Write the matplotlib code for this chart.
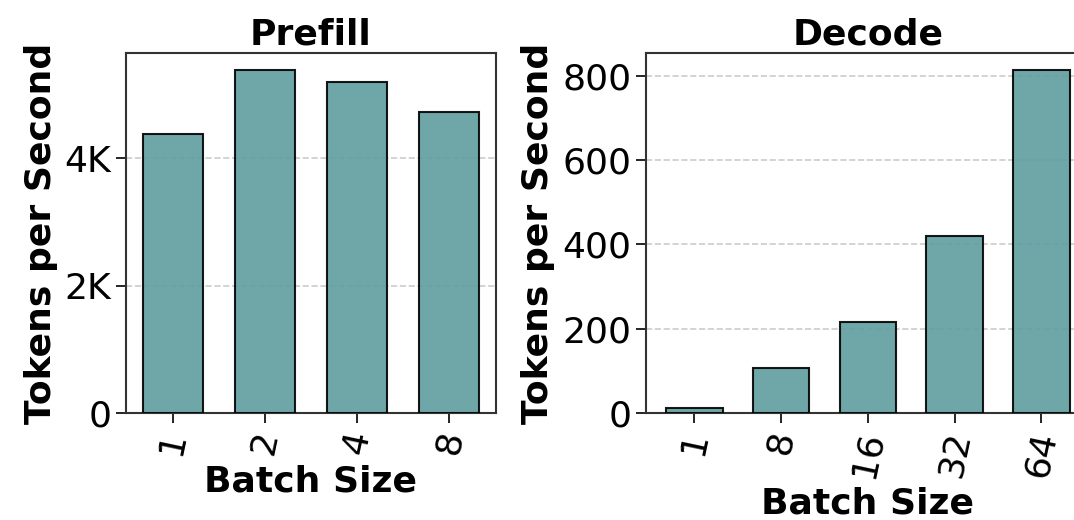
import matplotlib
matplotlib.use("Agg")
import matplotlib.pyplot as plt
from matplotlib.ticker import FuncFormatter

prefill_batches = ["1", "2", "4", "8"]
prefill_tps = [4383, 5378, 5194, 4729]

decode_batches = ["1", "8", "16", "32", "64"]
decode_tps = [13, 108, 217, 419, 812]

BAR_COLOR = "cadetblue"

fig = plt.figure(figsize=(10.74, 5.2), dpi=100)
ax1 = fig.add_axes([0.1173, 0.2052, 0.3445, 0.6923])
ax2 = fig.add_axes([0.6015, 0.2052, 0.4131, 0.6923])


def draw_panel(ax, labels, values, title):
    x = range(len(labels))
    ax.bar(x, values, width=0.65, color=BAR_COLOR, alpha=0.9,
           edgecolor="black", linewidth=1.5, zorder=3)
    ax.set_xticks(list(x))
    ax.set_xticklabels(labels, rotation=78, fontsize=26)
    ax.tick_params(axis="y", labelsize=26)
    ax.tick_params(length=7, width=1.2)
    ax.set_title(title, fontsize=26, fontweight="bold")
    ax.set_xlabel("Batch Size", fontsize=26, fontweight="bold", labelpad=5)
    ax.set_ylabel("Tokens per Second", fontsize=26, fontweight="bold", labelpad=5)
    ax.yaxis.grid(True, linestyle="--", color="#cccccc", linewidth=1.2, zorder=0)
    ax.set_axisbelow(True)
    for s in ax.spines.values():
        s.set_linewidth(1.5)
        s.set_color("#333333")


draw_panel(ax1, prefill_batches, prefill_tps, "Prefill")
ax1.set_yticks([0, 2000, 4000])
ax1.yaxis.set_major_formatter(FuncFormatter(lambda v, p: "0" if v == 0 else f"{int(v / 1000)}K"))

draw_panel(ax2, decode_batches, decode_tps, "Decode")
ax2.set_yticks([0, 200, 400, 600, 800])

fig.savefig("out.png", dpi=100)
